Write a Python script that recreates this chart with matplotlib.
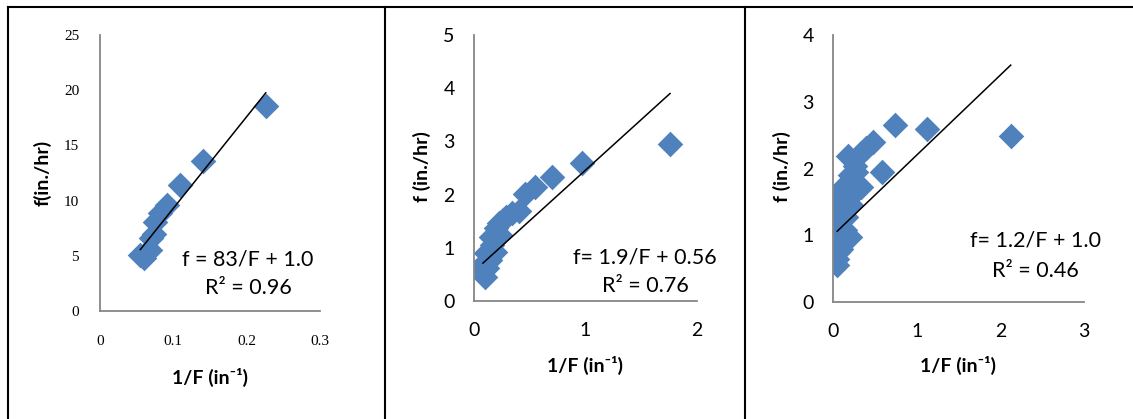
import matplotlib
matplotlib.use("Agg")
import matplotlib.pyplot as plt
import numpy as np
from matplotlib.lines import Line2D

# panel 1 : f vs 1/F
x1 = [0.055, 0.060, 0.064, 0.068, 0.070, 0.073, 0.075, 0.082, 0.091, 0.109, 0.140, 0.226]
y1 = [5.1, 4.8, 5.3, 5.5, 6.6, 7.0, 8.1, 8.85, 9.6, 11.4, 13.6, 18.6]

# panel 2
x2 = [0.08, 0.09, 0.10, 0.12, 0.11, 0.14, 0.16, 0.15, 0.19, 0.20, 0.23,
      0.22, 0.26, 0.29, 0.34, 0.40, 0.457, 0.547, 0.697, 0.966, 1.758]
y2 = [0.58, 0.72, 0.45, 0.62, 0.90, 0.78, 1.05, 1.21, 0.92, 1.37, 1.25,
      1.46, 1.52, 1.58, 1.65, 1.70, 2.02, 2.14, 2.34, 2.60, 2.95]

# panel 3
x3 = [0.05, 0.05, 0.06, 0.05, 0.06, 0.05, 0.07, 0.05, 0.06, 0.08, 0.12, 0.14, 0.16, 0.14,
      0.20, 0.20, 0.20, 0.24, 0.26, 0.18, 0.34, 0.34, 0.40, 0.48, 0.58, 0.745, 1.12, 2.124,
      0.10, 0.12, 0.22, 0.28]
y3 = [0.55, 0.65, 0.75, 0.88, 1.03, 1.18, 1.33, 1.48, 1.25, 1.63, 1.73, 1.40, 1.28, 1.08,
      0.98, 1.58, 1.90, 1.80, 2.03, 2.18, 1.73, 2.23, 2.30, 2.40, 1.95, 2.65, 2.59, 2.48,
      0.80, 1.55, 1.45, 1.95]

# trendline coefficients (slope, intercept) and labels
slopes = [83, 1.9, 1.2]
intercepts = [1.0, 0.56, 1.0]
eq_labels = ["f = 83/F + 1.0", "f= 1.9/F + 0.56", "f= 1.2/F + 1.0"]
r2_labels = ["R\u00b2 = 0.96", "R\u00b2 = 0.76", "R\u00b2 = 0.46"]
ylabels = ["f(in./hr)", "f (in./hr)", "f (in./hr)"]
xlabel = "1/F (in\u207b\u00b9)"

xmax = [0.3, 2, 3]
ymax = [25, 5, 4]
xticks = [[0, 0.1, 0.2, 0.3], [0, 1, 2], [0, 1, 2, 3]]
xticklabels = [["0", "0.1", "0.2", "0.3"], ["0", "1", "2"], ["0", "1", "2", "3"]]
yticks = [[0, 5, 10, 15, 20, 25], [0, 1, 2, 3, 4, 5], [0, 1, 2, 3, 4]]

sans = ["Lato", "DejaVu Sans"]
W, H = 1133, 419
fig = plt.figure(figsize=(W / 100, H / 100), dpi=100)

# axes boxes in pixels: left, right, top, bottom
boxes = [(100, 320, 35, 311), (474, 697, 35, 301), (833, 1084, 35, 302)]
data = [(x1, y1), (x2, y2), (x3, y3)]
# label centres in pixels
ylab_pos = [(43, 173), (422, 167), (782, 167)]
xlab_pos = [(210, 377), (585, 365), (958, 365)]
eq_pos = [(248, 260, 288), (645, 257, 286), (1035, 240, 271)]

for i in range(3):
    l, r, t, b = boxes[i]
    ax = fig.add_axes([l / W, 1 - b / H, (r - l) / W, (b - t) / H])
    xs, ys = data[i]
    ax.scatter(xs, ys, marker="D", s=170, color="#4F81BD", linewidths=0, zorder=2)
    xx = np.array([min(xs), max(xs)])
    ax.plot(xx, slopes[i] * xx + intercepts[i], color="black", lw=1.1, zorder=3)
    ax.set_xlim(0, xmax[i])
    ax.set_ylim(0, ymax[i])
    ax.set_xticks(xticks[i])
    ax.set_xticklabels(xticklabels[i])
    ax.set_yticks(yticks[i])
    for s in ["top", "right"]:
        ax.spines[s].set_visible(False)
    for s in ["left", "bottom"]:
        ax.spines[s].set_color("#868686")
        ax.spines[s].set_linewidth(1.3)
    ax.tick_params(length=0)
    if i == 0:
        ax.tick_params(axis="x", pad=17, labelsize=11)
        ax.tick_params(axis="y", pad=15, labelsize=11)
        for lab in ax.get_xticklabels() + ax.get_yticklabels():
            lab.set_family("Liberation Serif")
    else:
        ax.tick_params(axis="x", pad=15, labelsize=14)
        ax.tick_params(axis="y", pad=14, labelsize=14)
        for lab in ax.get_xticklabels() + ax.get_yticklabels():
            lab.set_family(sans)
    ax.patch.set_alpha(0)

    fig.text(ylab_pos[i][0] / W, 1 - ylab_pos[i][1] / H, ylabels[i], rotation=90,
             ha="center", va="center", fontsize=14, fontweight="bold", family=sans)
    fig.text(xlab_pos[i][0] / W, 1 - xlab_pos[i][1] / H, xlabel,
             ha="center", va="center", fontsize=14, fontweight="bold", family=sans)
    ex, ey1, ey2 = eq_pos[i]
    fig.text(ex / W, 1 - ey1 / H, eq_labels[i], ha="center", va="center",
             fontsize=15.5, family=sans)
    fig.text(ex / W, 1 - ey2 / H, r2_labels[i], ha="center", va="center",
             fontsize=15.5, family=sans)

# table borders
fig.add_artist(Line2D([8 / W, 1], [1 - 7 / H, 1 - 7 / H], color="black", lw=1.5))
for xb in [8, 385, 745]:
    fig.add_artist(Line2D([xb / W, xb / W], [1 - 7 / H, 0], color="black", lw=1.5))

fig.savefig("out.png", dpi=100)
